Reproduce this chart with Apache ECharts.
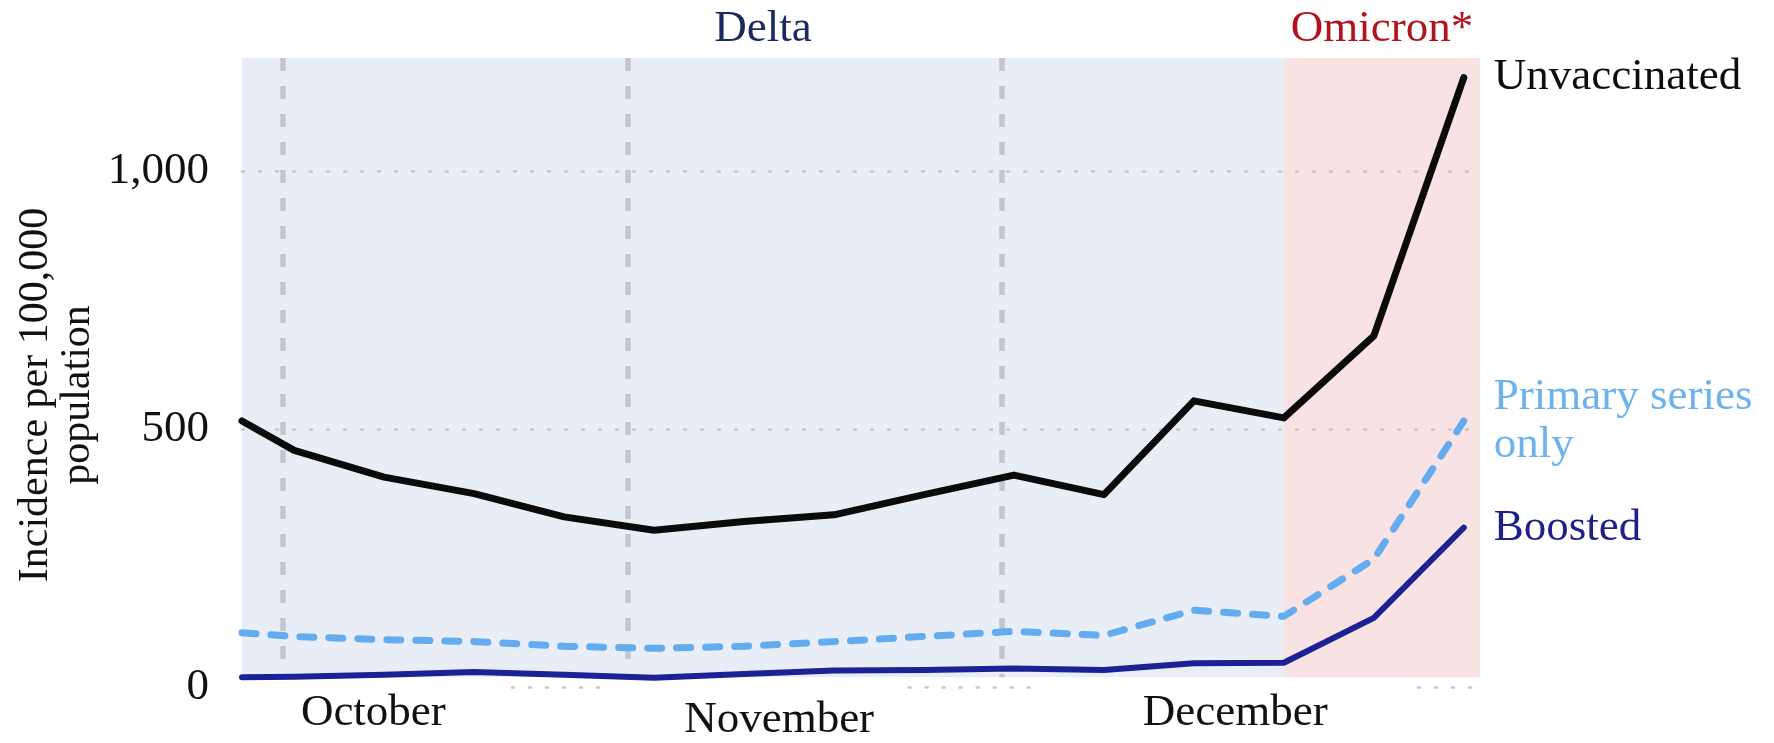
<!DOCTYPE html>
<html><head><meta charset="utf-8">
<script src="https://cdn.jsdelivr.net/npm/echarts@6/dist/echarts.min.js"></script>
<style>html,body{margin:0;padding:0;background:#fff}#c{width:1774px;height:743px}</style>
</head><body><div id="c"></div>
<script>
// ---- data ----
const weeks = [-0.58, 0, 1, 2, 3, 4, 5, 6, 7, 8, 9, 10, 11, 12, 13];
const unvaccinated = [516, 459, 407, 375, 330, 304, 321, 334, 373, 411, 373, 555, 522, 681, 1182];
const primarySeriesOnly = [105, 98, 92, 88, 79, 75, 79, 88, 98, 108, 100, 149, 137, 248, 516];
const boosted = [19, 20, 24, 29, 24, 18, 25, 32, 33, 36, 33, 46, 47, 134, 309];
const yTicks = [0, 500, 1000];
const monthLabels = ['October', 'November', 'December'];
const monthLabelWeeks = [0.88, 5.39, 10.46];
const periodNames = ['Delta', 'Omicron*'];
const omicronStartWeek = 11;
const dashedWeeks = [-0.13, 3.71, 7.86];
const zeroDotSegments = [[2.42, 3.46], [6.83, 8.32], [12.49, 13.18]];

const X_MIN = -0.58, X_MAX = 13.18, Y_MAX = 1220, BAND_BOTTOM = 19;
const FONT = '"Liberation Serif", "Times New Roman", serif';

const pairs = vals => weeks.map((w, i) => [w, vals[i]]);

const chart = echarts.init(document.getElementById('c'), null, {renderer: 'canvas'});
chart.setOption({
  animation: false,
  backgroundColor: '#ffffff',
  grid: {left: 242, right: 294, top: 58, bottom: 50},
  xAxis: {
    type: 'value', min: X_MIN, max: X_MAX,
    axisLine: {show: false}, axisTick: {show: false}, splitLine: {show: false},
    axisLabel: {
      customValues: monthLabelWeeks,
      margin: 4,
      color: '#111', fontSize: 45, fontFamily: FONT,
      formatter: v => {
        let k = 0, best = Infinity;
        monthLabelWeeks.forEach((m, i) => { const d = Math.abs(m - v); if (d < best) { best = d; k = i; } });
        return k === 1 ? '{n|' + monthLabels[k] + '}' : monthLabels[k];
      },
      rich: {n: {fontSize: 45, fontFamily: FONT, color: '#111', padding: [7, 0, 0, 0]}}
    }
  },
  yAxis: {
    type: 'value', min: 0, max: Y_MAX,
    axisLine: {show: false}, axisTick: {show: false}, splitLine: {show: false},
    axisLabel: {
      customValues: yTicks,
      margin: 33,
      color: '#111', fontSize: 45, fontFamily: FONT,
      padding: [8, 0, 0, 0],
      formatter: v => Number(v).toLocaleString('en-US')
    }
  },
  graphic: [{
    type: 'text', x: 57, y: 395, rotation: Math.PI / 2, silent: true,
    style: {
      text: 'Incidence per 100,000\npopulation',
      font: '42px ' + FONT, fill: '#111',
      align: 'center', verticalAlign: 'middle',
      textAlign: 'center', textVerticalAlign: 'middle',
      lineHeight: 42
    }
  }],
  series: [
    {
      type: 'line', data: [], z: 1, silent: true,
      markArea: {
        silent: true,
        data: [
          [{coord: [X_MIN, BAND_BOTTOM], itemStyle: {color: '#e9edf6'},
            label: {show: true, position: 'top', distance: 6, formatter: periodNames[0], fontSize: 45, fontFamily: FONT, color: '#1b2a5e'}},
           {coord: [omicronStartWeek, Y_MAX]}],
          [{coord: [omicronStartWeek, BAND_BOTTOM], itemStyle: {color: '#f8e2e3'},
            label: {show: true, position: 'top', distance: 6, formatter: periodNames[1], fontSize: 45, fontFamily: FONT, color: '#b3121c'}},
           {coord: [X_MAX, Y_MAX]}]
        ]
      }
    },
    {
      type: 'line', data: [], z: 2, silent: true,
      markLine: {
        silent: true, symbol: 'none', label: {show: false},
        lineStyle: {color: '#c6c7cc', width: 2.5, type: [2, 15], cap: 'round'},
        emphasis: {disabled: true},
        data: yTicks.filter(v => v > 0).map(v => ({yAxis: v}))
          .concat(zeroDotSegments.map(s => [{coord: [s[0], 0]}, {coord: [s[1], 0]}]))
      }
    },
    {
      type: 'line', data: [], z: 2, silent: true,
      markLine: {
        silent: true, symbol: 'none', label: {show: false},
        lineStyle: {color: '#c4c6cc', width: 5.5, type: [13, 15]},
        emphasis: {disabled: true},
        data: dashedWeeks.map(w => [{coord: [w, Y_MAX]}, {coord: [w, BAND_BOTTOM]}])
      }
    },
    {
      name: 'Primary series only', type: 'line', z: 5, symbol: 'none',
      data: pairs(primarySeriesOnly),
      lineStyle: {color: '#62acef', width: 7, type: [14, 15], cap: 'round', join: 'round'},
      endLabel: {show: true, formatter: 'Primary series\nonly', distance: 30,
        color: '#6cb2ee', fontSize: 45, fontFamily: FONT, lineHeight: 48, align: 'left'}
    },
    {
      name: 'Boosted', type: 'line', z: 6, symbol: 'none',
      data: pairs(boosted),
      lineStyle: {color: '#1c2196', width: 6, cap: 'round', join: 'round'},
      endLabel: {show: true, formatter: 'Boosted', distance: 30,
        color: '#1d1f8a', fontSize: 45, fontFamily: FONT}
    },
    {
      name: 'Unvaccinated', type: 'line', z: 7, symbol: 'none',
      data: pairs(unvaccinated),
      lineStyle: {color: '#0b0b0b', width: 7, cap: 'round', join: 'round'},
      endLabel: {show: true, formatter: 'Unvaccinated', distance: 30,
        color: '#0d0d0d', fontSize: 45, fontFamily: FONT}
    }
  ]
});
</script>
</body></html>
